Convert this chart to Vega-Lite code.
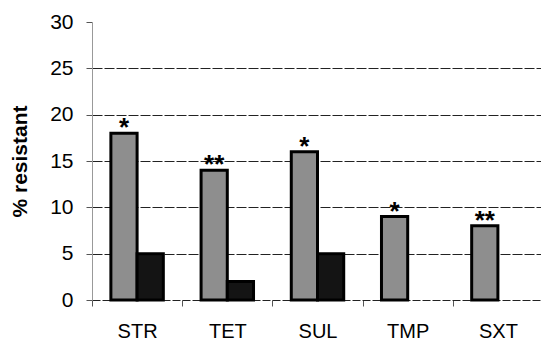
{
  "$schema": "https://vega.github.io/schema/vega-lite/v6.json",
  "autosize": {"type": "none"},
  "padding": {"left": 92, "top": 22, "right": 0, "bottom": 42},
  "width": 451,
  "height": 278,
  "background": "white",
  "config": {
    "view": {"stroke": null},
    "font": "Liberation Sans",
    "axis": {"labelFont": "Liberation Sans", "titleFont": "Liberation Sans", "labelColor": "black", "titleColor": "black"}
  },
  "data": {
    "values": [
      {"drug": "STR", "group": "a", "value": 18, "sig": "*"},
      {"drug": "STR", "group": "b", "value": 5, "sig": ""},
      {"drug": "TET", "group": "a", "value": 14, "sig": "**"},
      {"drug": "TET", "group": "b", "value": 2, "sig": ""},
      {"drug": "SUL", "group": "a", "value": 16, "sig": "*"},
      {"drug": "SUL", "group": "b", "value": 5, "sig": ""},
      {"drug": "TMP", "group": "a", "value": 9, "sig": "*"},
      {"drug": "TMP", "group": "b", "value": 0, "sig": ""},
      {"drug": "SXT", "group": "a", "value": 8, "sig": "**"},
      {"drug": "SXT", "group": "b", "value": 0, "sig": ""}
    ]
  },
  "encoding": {
    "x": {
      "field": "drug", "type": "nominal", "sort": ["STR", "TET", "SUL", "TMP", "SXT"],
      "scale": {"padding": 0},
      "axis": {
        "title": null, "labelAngle": 0, "labelFontSize": 20, "labelPadding": 35, "labelBaseline": "bottom",
        "tickBand": "extent", "tickSize": 6, "tickColor": "#555", "domainColor": "#222", "domainDash": [8, 2], "grid": false
      }
    },
    "xOffset": {"field": "group", "type": "nominal", "scale": {"domain": ["a", "b"], "paddingInner": 0, "paddingOuter": 0.72}},
    "y": {
      "field": "value", "type": "quantitative",
      "scale": {"domain": [0, 30], "nice": false},
      "axis": {
        "title": "% resistant", "titleFontSize": 21, "titleFontWeight": "bold", "titlePadding": 19,
        "values": [0, 5, 10, 15, 20, 25, 30], "labelFontSize": 21, "labelPadding": 13, "tickSize": 6,
        "tickColor": "#555", "domainColor": "#999",
        "grid": true, "gridColor": "#222", "gridDash": [10, 2],
        "gridOpacity": {"condition": {"test": "datum.value == 30 || datum.value == 0", "value": 0}, "value": 1}
      }
    }
  },
  "layer": [
    {
      "mark": {"type": "bar", "stroke": "black", "strokeWidth": 3},
      "encoding": {
        "color": {"field": "group", "type": "nominal", "scale": {"domain": ["a", "b"], "range": ["#8e8e8e", "#141414"]}, "legend": null},
        "opacity": {"condition": {"test": "datum.value == 0", "value": 0}, "value": 1}
      }
    },
    {
      "transform": [{"filter": "datum.group == 'a'"}],
      "mark": {"type": "text", "fontSize": 26, "fontWeight": "bold", "baseline": "alphabetic", "dy": 3, "color": "black"},
      "encoding": {"text": {"field": "sig"}}
    }
  ]
}
